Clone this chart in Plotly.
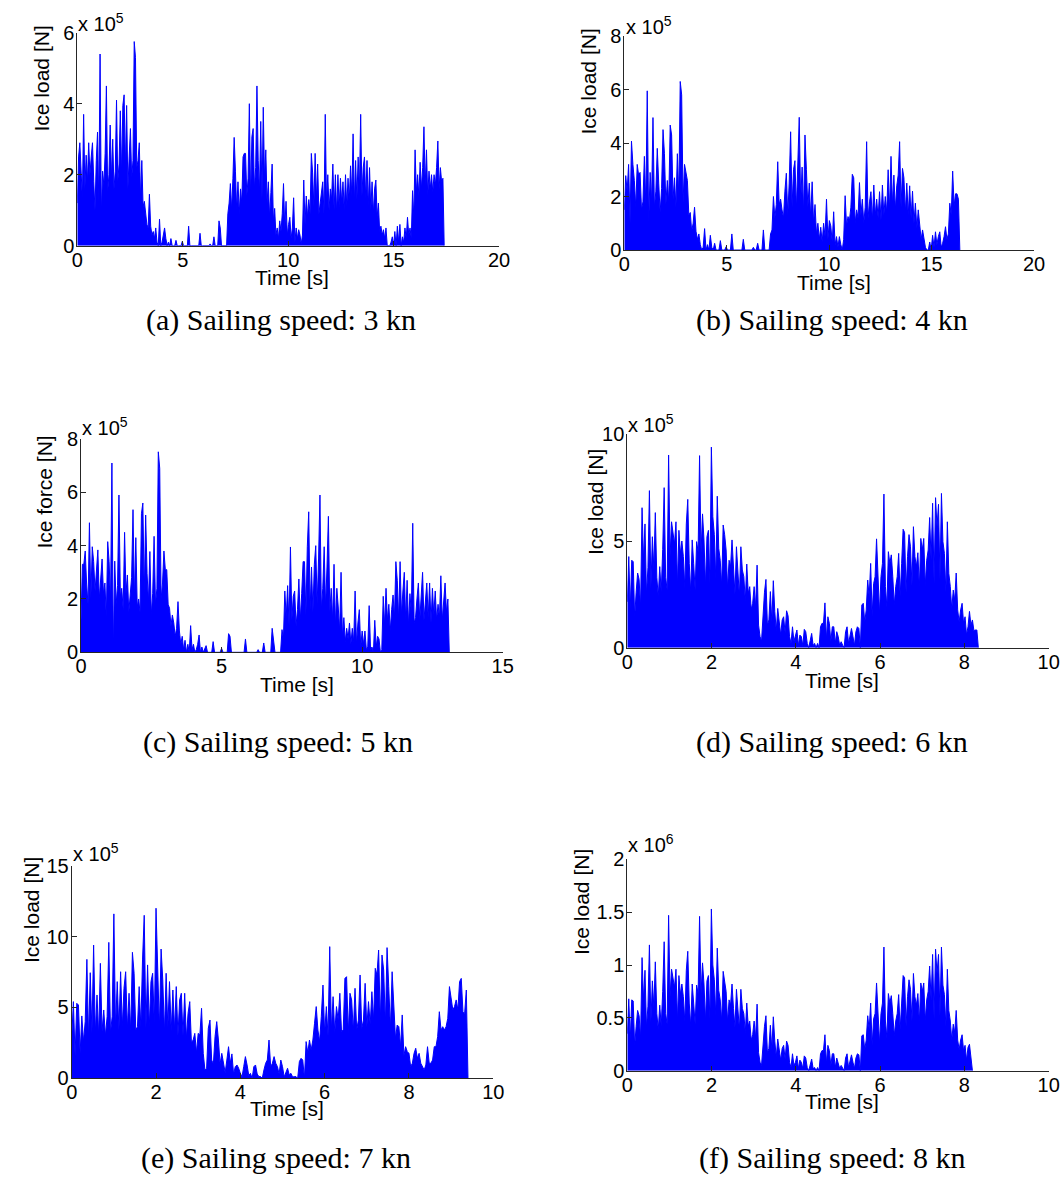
import numpy as np
import plotly.graph_objects as go

W, H = 1064, 1186

# ---------------- data (ice load, in units of the axis multiplier) ----------------
dt_a = 0.06   # s, panel (a) 3 kn, values x 1e5 N
load_a = [1.2, 2.5, 2.9, 2.0, 1.3, 3.7, 1.6, 2.55, 1.8, 2.9,
          2.0, 2.5, 2.9, 1.8, 1.0, 2.4, 3.2, 1.2, 5.4, 0.9,
          2.1, 1.7, 2.6, 4.5, 1.5, 2.0, 3.4, 1.9, 3.0, 1.6,
          2.1, 4.1, 1.8, 2.3, 3.8, 2.0, 3.95, 4.25, 2.2, 3.95,
          1.6, 2.5, 3.3, 1.9, 2.4, 5.75, 5.3, 2.2, 2.4, 2.9,
          1.3, 2.4, 1.1, 1.25, 0.8, 0.6, 0.5, 1.45, 0.55, 0.3,
          0.4, 0.2, 0.5, 0.1, 0, 0.75, 0, 0.1, 0.3, 0.5,
          0.2, 0, 0.1, 0, 0.2, 0, 0, 0, 0.15, 0,
          0, 0, 0, 0.12, 0, 0, 0, 0, 0.55, 0,
          0, 0, 0, 0, 0, 0, 0, 0.35, 0, 0,
          0, 0, 0, 0, 0, 0.05, 0, 0, 0.25, 0,
          0, 0, 0.7, 0.5, 0, 0, 0, 0, 0, 0.9,
          1.2, 1.75, 1.0, 1.9, 3.05, 2.1, 1.0, 1.8, 0.9, 1.6,
          1.2, 2.5, 2.6, 2.6, 1.4, 1.9, 4.0, 1.3, 3.07, 3.3,
          1.6, 2.2, 4.5, 2.4, 1.5, 3.5, 1.3, 3.9, 1.9, 2.7,
          1.2, 1.8, 0.8, 1.5, 2.3, 0.7, 1.05, 0.3, 0.5, 0.2,
          0.7, 0.4, 0.9, 1.75, 0.5, 1.25, 0.3, 0.6, 0.8, 0.2,
          0.5, 1.35, 0.1, 0.5, 0.2, 0.45, 0.3, 0.05, 0.3, 1.85,
          0.6, 1.4, 0.8, 1.3, 0.9, 2.6, 2.05, 1.1, 2.6, 1.3,
          2.3, 0.9, 1.2, 1.5, 1.8, 0.9, 3.7, 1.2, 2.0, 1.0,
          1.6, 1.3, 2.3, 1.0, 2.0, 0.9, 2.0, 1.1, 1.9, 1.2,
          1.8, 1.0, 2.0, 1.1, 1.9, 1.3, 2.25, 1.4, 3.15, 1.2,
          2.4, 1.3, 2.5, 1.6, 3.7, 1.4, 2.2, 2.5, 1.3, 2.4,
          1.1, 2.2, 1.0, 1.8, 0.9, 1.6, 1.85, 0.8, 1.2, 0.4,
          0.55, 0.3, 0.45, 0.2, 0.5, 0, 0, 0, 0.1, 0.25,
          0, 0.4, 0, 0.55, 0.1, 0.6, 0, 0.25, 0.1, 0.5,
          0.2, 0.8, 0.3, 0.5, 0.2, 1.55, 0.8, 2.7, 1.5, 2.0,
          1.4, 2.35, 1.6, 2.2, 3.35, 1.7, 2.7, 1.4, 2.1, 1.6,
          2.0, 1.5, 2.0, 1.7, 2.2, 2.95, 1.6, 2.2, 1.8, 1.9,
          0]

dt_b = 0.07   # s, panel (b) 4 kn, values x 1e5 N
load_b = [1.5, 2.78, 2.2, 3.2, 1.0, 4.07, 3.2, 2.6, 1.6, 3.2,
          2.8, 2.9, 1.5, 1.8, 3.5, 1.7, 5.95, 1.0, 2.9, 1.8,
          4.95, 1.6, 2.2, 3.8, 2.5, 1.4, 2.3, 4.5, 3.6, 1.7,
          2.6, 1.8, 4.67, 4.3, 1.9, 2.7, 1.6, 3.6, 2.0, 6.3,
          5.8, 1.8, 3.2, 2.8, 2.6, 1.3, 1.4, 0.7, 1.0, 1.6,
          0.7, 0.4, 0.6, 0.2, 0, 0.1, 0.8, 0, 0.2, 0,
          0.55, 0.1, 0, 0.25, 0, 0, 0, 0.35, 0, 0,
          0, 0.12, 0, 0, 0, 0.6, 0, 0, 0, 0,
          0, 0, 0, 0.4, 0, 0, 0, 0, 0, 0,
          0.1, 0, 0, 0.25, 0, 0, 0, 0.75, 0, 0,
          0, 0, 0.6, 0.75, 2.0, 1.2, 1.7, 3.3, 1.7, 1.9,
          1.5, 1.2, 2.2, 2.87, 1.3, 2.5, 4.42, 1.6, 3.0, 3.34,
          1.5, 2.9, 4.96, 1.8, 3.1, 1.4, 4.3, 3.0, 1.6, 2.5,
          1.2, 2.55, 1.0, 1.7, 0.6, 1.0, 0.4, 0.85, 0.3, 1.0,
          0.5, 1.9, 0.4, 1.1, 0.9, 0.3, 1.43, 0.2, 0.5, 0.1,
          0.5, 0.2, 0, 0.4, 2.03, 0.9, 1.25, 1.1, 1.6, 2.83,
          2.7, 1.0, 1.5, 1.2, 2.52, 1.3, 1.9, 1.0, 1.6, 4.05,
          1.2, 1.8, 2.18, 1.1, 2.43, 1.3, 1.9, 1.2, 2.18, 1.1,
          2.43, 1.3, 2.0, 1.4, 3.0, 1.5, 3.5, 1.7, 2.8, 1.5,
          2.4, 2.8, 4.05, 1.6, 3.05, 2.7, 1.4, 2.5, 1.3, 2.4,
          1.2, 2.2, 1.0, 1.75, 0.8, 1.5, 0.9, 0.4, 0.75, 0.37,
          0.1, 0, 0, 0.3, 0, 0.55, 0.1, 0.68, 0.2, 0.5,
          0.68, 0.1, 0.25, 0.5, 0.87, 0.4, 0.6, 1.75, 1.3, 2.95,
          1.65, 2.1, 2.1, 1.9, 0]

dt_c = 0.05   # s, panel (c) 5 kn, values x 1e5 N
force_c = [1.2, 3.3, 3.3, 3.8, 2.56, 1.8, 4.86, 2.0, 3.96, 3.4,
           2.3, 3.3, 3.84, 2.0, 3.0, 3.5, 2.2, 2.6, 1.3, 4.15,
           3.4, 1.9, 7.1, 0.0, 3.42, 1.8, 2.5, 5.9, 2.1, 2.4,
           1.6, 4.5, 2.2, 2.9, 1.5, 2.3, 2.8, 5.35, 2.0, 4.3,
           1.7, 2.0, 1.5, 5.2, 5.6, 2.2, 5.15, 2.95, 1.9, 3.78,
           1.4, 2.2, 4.35, 1.8, 2.4, 7.52, 6.9, 2.0, 2.6, 3.8,
           3.1, 3.1, 1.8, 1.65, 1.0, 1.4, 1.1, 0.6, 0.9, 1.9,
           0.8, 0.3, 0.6, 0.1, 0.45, 0, 0.3, 0, 1.0, 0.1,
           0.3, 0, 0.1, 0.3, 0.65, 0, 0.2, 0, 0.1, 0.25,
           0, 0, 0, 0, 0.4, 0, 0, 0, 0, 0,
           0.15, 0, 0, 0, 0, 0.7, 0.6, 0, 0, 0,
           0, 0, 0, 0, 0, 0, 0, 0.5, 0, 0,
           0, 0, 0, 0, 0, 0, 0.1, 0, 0, 0,
           0.35, 0, 0, 0, 0, 0, 0.9, 0.5, 0, 0,
           0, 0, 0, 0.85, 0.5, 2.3, 1.3, 2.5, 1.0, 3.95,
           1.2, 2.1, 2.3, 1.0, 1.6, 2.75, 1.2, 2.2, 3.4, 3.4,
           1.4, 3.96, 5.27, 1.6, 3.2, 1.5, 3.3, 4.0, 1.8, 3.5,
           5.9, 1.6, 2.4, 3.96, 1.7, 3.2, 5.1, 1.5, 2.4, 1.2,
           3.3, 1.0, 2.4, 1.7, 0.8, 3.0, 0.6, 1.3, 0.4, 0.9,
           0.5, 1.1, 0.3, 0.9, 0.4, 2.3, 0.3, 1.1, 1.6, 0.2,
           0.8, 0.3, 0.8, 0.1, 0.2, 1.75, 0.1, 0.2, 0, 1.2,
           0.2, 0.6, 0.5, 0, 0.1, 2.1, 1.0, 2.4, 1.2, 1.8,
           0.8, 1.6, 2.15, 1.3, 3.4, 2.7, 1.2, 3.4, 1.4, 2.3,
           3.0, 1.2, 2.7, 1.0, 2.2, 1.5, 4.84, 1.1, 1.3, 2.0,
           2.6, 1.2, 2.2, 3.0, 1.2, 2.1, 2.6, 1.3, 2.6, 1.1,
           2.4, 1.4, 2.3, 1.2, 1.8, 1.3, 2.87, 1.2, 1.9, 2.6,
           1.5, 2.0, 0]

dt_d = 0.035  # s, panel (d) 6 kn, values x 1e5 N
load_d = [2.15, 4.27, 1.8, 4.1, 4.03, 1.4, 2.6, 3.5, 3.2, 1.9,
          6.56, 4.1, 5.8, 2.5, 3.75, 7.36, 2.8, 5.2, 3.7, 6.33,
          3.3, 2.4, 3.8, 2.6, 4.6, 7.5, 3.3, 2.7, 9.03, 4.27,
          5.9, 5.3, 4.86, 5.9, 2.9, 5.5, 4.4, 5.0, 4.27, 2.8,
          5.8, 6.95, 3.95, 2.6, 5.05, 3.95, 2.7, 4.97, 4.5, 9.0,
          4.45, 6.27, 5.05, 2.9, 5.2, 5.5, 3.0, 9.4, 6.14, 5.3,
          3.2, 7.1, 4.66, 4.1, 2.9, 5.75, 5.3, 4.58, 2.8, 4.1,
          3.8, 5.05, 3.64, 2.5, 4.73, 3.25, 2.4, 4.73, 3.64, 3.33,
          2.2, 3.92, 2.55, 2.86, 1.8, 2.08, 2.86, 1.9, 3.87, 1.06,
          0.52, 0.3, 1.5, 2.6, 3.2, 1.06, 1.3, 2.63, 1.2, 3.14,
          1.69, 0.8, 1.84, 1.14, 0.6, 1.3, 1.45, 0.7, 1.73, 1.5,
          0.52, 0.2, 0.98, 0.3, 0.52, 0.83, 0.1, 0.59, 0.52, 0.1,
          0.86, 0.75, 0.2, 0.0, 0.33, 0.67, 0.1, 0.2, 0.0, 0.2,
          0.0, 0.98, 1.14, 1.14, 2.1, 0.4, 1.45, 1.14, 0.3, 0.98,
          0.98, 0.2, 0.75, 0.52, 0.1, 0.28, 0.12, 0.0, 0.75, 0.98,
          0.2, 0.59, 0.9, 0.52, 0.1, 0.75, 0.98, 0.9, 0.0, 2.0,
          2.08, 1.2, 1.77, 3.17, 2.39, 3.95, 1.5, 3.0, 3.33, 5.1,
          2.86, 1.6, 3.33, 3.95, 7.2, 2.86, 1.9, 4.5, 3.95, 4.35,
          3.33, 2.0, 2.86, 3.33, 4.42, 2.4, 3.95, 5.55, 5.4, 2.6,
          4.27, 5.3, 4.73, 2.9, 5.67, 4.27, 3.8, 4.45, 2.8, 5.12,
          4.58, 5.12, 2.9, 4.1, 4.58, 6.1, 4.1, 6.77, 3.0, 7.03,
          5.67, 6.72, 3.2, 7.23, 4.97, 4.42, 2.6, 5.9, 3.48, 2.86,
          1.8, 2.7, 2.23, 3.5, 1.77, 1.2, 1.77, 2.08, 1.14, 1.45,
          0.6, 0.98, 1.7, 1.06, 1.3, 0.8, 0.83, 0.83, 0]

dt_e = 0.04   # s, panel (e) 7 kn, values x 1e5 N
load_e = [2.82, 5.41, 1.58, 5.29, 5.17, 1.76, 4.4, 2.6, 4.0, 8.39,
          2.8, 7.45, 3.2, 9.4, 3.17, 5.88, 3.0, 8.11, 3.3, 4.82,
          3.0, 4.35, 9.59, 3.2, 4.35, 11.6, 3.5, 6.82, 3.4, 7.52,
          3.6, 6.35, 7.52, 3.5, 6.0, 3.3, 8.89, 7.41, 3.4, 3.64,
          6.47, 3.6, 8.35, 11.5, 3.5, 8.0, 3.6, 6.82, 7.41, 3.8,
          12.0, 7.41, 3.5, 9.12, 6.94, 3.2, 7.41, 3.6, 6.82, 3.3,
          6.23, 3.4, 6.47, 3.0, 5.53, 6.0, 3.0, 6.0, 2.8, 4.58,
          5.41, 2.5, 2.7, 3.17, 1.8, 3.17, 3.06, 4.94, 1.76, 0.59,
          0.7, 3.53, 4.11, 1.29, 1.0, 2.94, 4.0, 2.7, 1.0, 1.76,
          1.18, 0.4, 1.29, 2.23, 1.06, 1.72, 0.3, 0.82, 0.94, 0.71,
          0.35, 0.1, 0.82, 1.53, 0.94, 0.2, 0.35, 0.0, 0.82, 0.94,
          0.3, 0.12, 0.12, 0.0, 0.59, 1.06, 1.29, 2.7, 0.8, 1.06,
          1.53, 1.06, 0.82, 0.3, 1.29, 0.82, 0.1, 0.35, 0.71, 0.24,
          0.35, 0.1, 0.12, 0.12, 0.0, 1.18, 1.41, 1.29, 0.0, 2.59,
          1.8, 2.7, 2.0, 2.7, 3.88, 5.06, 3.41, 2.6, 4.35, 6.58,
          3.17, 5.06, 3.0, 9.29, 3.41, 5.76, 3.2, 5.06, 4.11, 6.0,
          3.3, 3.41, 7.05, 7.17, 3.2, 6.0, 5.53, 3.3, 6.35, 3.41,
          4.11, 7.29, 3.5, 4.11, 6.7, 3.6, 5.41, 3.8, 6.11, 4.11,
          7.76, 7.29, 9.05, 4.0, 8.7, 7.64, 3.8, 9.22, 6.47, 3.5,
          7.52, 4.58, 2.8, 3.76, 3.64, 2.23, 4.47, 1.6, 2.23, 1.88,
          1.76, 0.82, 1.06, 1.76, 2.12, 1.41, 1.76, 1.06, 0.82, 0.59,
          0.94, 2.23, 1.06, 1.06, 1.29, 2.23, 2.23, 2.94, 4.7, 3.41,
          3.64, 3.41, 3.64, 4.23, 6.47, 5.53, 4.82, 5.06, 5.53, 4.82,
          6.82, 7.05, 4.7, 4.58, 6.23, 0]

dt_f = 0.035  # s, panel (f) 8 kn, values x 1e6 N
load_f = [0.35, 0.68, 0.29, 0.67, 0.66, 0.23, 0.42, 0.57, 0.52, 0.31,
          1.07, 0.67, 0.95, 0.41, 0.61, 1.19, 0.46, 0.85, 0.60, 1.03,
          0.54, 0.39, 0.62, 0.42, 0.75, 1.22, 0.54, 0.44, 1.47, 0.70,
          0.96, 0.86, 0.79, 0.96, 0.47, 0.90, 0.72, 0.82, 0.70, 0.46,
          0.95, 1.13, 0.64, 0.42, 0.82, 0.64, 0.44, 0.81, 0.73, 1.46,
          0.73, 1.02, 0.82, 0.47, 0.85, 0.90, 0.49, 1.53, 1.0, 0.86,
          0.52, 1.16, 0.76, 0.67, 0.47, 0.94, 0.86, 0.75, 0.46, 0.67,
          0.62, 0.82, 0.59, 0.41, 0.77, 0.53, 0.39, 0.77, 0.59, 0.54,
          0.36, 0.64, 0.42, 0.47, 0.29, 0.34, 0.47, 0.31, 0.63, 0.17,
          0.08, 0.05, 0.24, 0.42, 0.52, 0.17, 0.21, 0.43, 0.20, 0.51,
          0.28, 0.13, 0.30, 0.19, 0.10, 0.21, 0.24, 0.11, 0.28, 0.24,
          0.08, 0.03, 0.16, 0.05, 0.08, 0.14, 0.02, 0.10, 0.08, 0.02,
          0.14, 0.12, 0.03, 0.0, 0.05, 0.11, 0.02, 0.03, 0.0, 0.03,
          0.0, 0.16, 0.19, 0.19, 0.34, 0.07, 0.24, 0.19, 0.05, 0.16,
          0.16, 0.03, 0.12, 0.08, 0.02, 0.05, 0.02, 0.0, 0.12, 0.16,
          0.03, 0.10, 0.15, 0.08, 0.02, 0.12, 0.16, 0.15, 0.0, 0.33,
          0.34, 0.20, 0.29, 0.52, 0.39, 0.64, 0.24, 0.49, 0.54, 0.83,
          0.47, 0.26, 0.54, 0.64, 1.17, 0.47, 0.31, 0.73, 0.64, 0.71,
          0.54, 0.33, 0.47, 0.54, 0.72, 0.39, 0.64, 0.90, 0.88, 0.42,
          0.70, 0.86, 0.77, 0.47, 0.92, 0.70, 0.62, 0.73, 0.46, 0.83,
          0.75, 0.83, 0.47, 0.67, 0.75, 0.99, 0.67, 1.10, 0.49, 1.15,
          0.92, 1.10, 0.52, 1.17, 0.81, 0.72, 0.42, 0.96, 0.57, 0.47,
          0.29, 0.44, 0.36, 0.57, 0.29, 0.20, 0.29, 0.34, 0.19, 0.24,
          0.10, 0.22, 0.25, 0.10, 0]

time_ticks_20 = [0, 5, 10, 15, 20]
time_ticks_15 = [0, 5, 10, 15]
time_ticks_10 = [0, 2, 4, 6, 8, 10]

captions = ["(a) Sailing speed: 3 kn", "(b) Sailing speed: 4 kn",
            "(c) Sailing speed: 5 kn", "(d) Sailing speed: 6 kn",
            "(e) Sailing speed: 7 kn", "(f) Sailing speed: 8 kn"]
y_titles = ["Ice load [N]", "Ice load [N]", "Ice force [N]",
            "Ice load [N]", "Ice load [N]", "Ice load [N]"]
exponents = ["5", "5", "5", "5", "5", "6"]

# ---------------- layout geometry (pixels) ----------------
panels = [
    dict(dt=dt_a, vals=load_a, xr=[0, 20], xt=time_ticks_20, yr=[0, 6], yt=[0, 2, 4, 6],
         box=(77.3, 499.0, 245.7, 32.7), ylab=(41, 78.5), xlab=(292, 277), expo=(76, 23), cap=(280.5, 320)),
    dict(dt=dt_b, vals=load_b, xr=[0, 20], xt=time_ticks_20, yr=[0, 8], yt=[0, 2, 4, 6, 8],
         box=(624.3, 1034.0, 250.0, 36.0), ylab=(588, 81.5), xlab=(834, 282), expo=(624, 26), cap=(832, 320)),
    dict(dt=dt_c, vals=force_c, xr=[0, 15], xt=time_ticks_15, yr=[0, 8], yt=[0, 2, 4, 6, 8],
         box=(81.0, 502.7, 652.3, 439.0), ylab=(43.5, 492), xlab=(297, 684), expo=(80, 426), cap=(278, 742)),
    dict(dt=dt_d, vals=load_d, xr=[0, 10], xt=time_ticks_10, yr=[0, 10], yt=[0, 5, 10],
         box=(627.3, 1048.7, 647.7, 434.3), ylab=(595, 502), xlab=(842, 680), expo=(626, 423), cap=(832, 742)),
    dict(dt=dt_e, vals=load_e, xr=[0, 10], xt=time_ticks_10, yr=[0, 15], yt=[0, 5, 10, 15],
         box=(71.7, 493.3, 1078.3, 865.7), ylab=(31, 910), xlab=(287, 1108), expo=(71, 852), cap=(276, 1158)),
    dict(dt=dt_f, vals=load_f, xr=[0, 10], xt=time_ticks_10, yr=[0, 2], yt=[0, 0.5, 1, 1.5, 2],
         box=(627.3, 1048.7, 1070.7, 859.3), ylab=(581, 902), xlab=(842, 1101), expo=(626, 843), cap=(832, 1158)),
]

SANS = "Liberation Sans, Arial, sans-serif"
SERIF = "Liberation Serif, Times New Roman, serif"
AX = "#262626"


def px(x):
    return x / W


def py(y):
    return 1 - y / H


fig = go.Figure()
layout = dict(template="none", width=W, height=H, margin=dict(l=0, r=0, t=0, b=0, pad=0),
              paper_bgcolor="white", plot_bgcolor="white", showlegend=False)
annotations = []

for k, p in enumerate(panels):
    n = k + 1
    sx = "" if n == 1 else str(n)
    vals = np.array(p["vals"], dtype=float)
    t = np.arange(len(vals)) * p["dt"]
    fig.add_trace(go.Scatter(x=t, y=vals, mode="lines",
                             line=dict(color="#0000ff", width=1),
                             fill="tozeroy", fillcolor="#0000ff",
                             xaxis="x" + sx, yaxis="y" + sx, hoverinfo="skip"))
    x0, x1, yb, yt = p["box"]
    layout["xaxis" + sx] = dict(domain=[px(x0), px(x1)], range=p["xr"], anchor="y" + sx,
                                automargin=False, tickvals=p["xt"], ticks="inside", ticklen=5,
                                tickcolor=AX, showline=True, linecolor=AX, linewidth=1,
                                showgrid=False, zeroline=False, ticklabelstandoff=-4,
                                tickfont=dict(family=SANS, size=20, color="black"))
    layout["yaxis" + sx] = dict(domain=[py(yb), py(yt)], range=p["yr"], anchor="x" + sx,
                                automargin=False, tickvals=p["yt"], ticks="inside", ticklen=5,
                                tickcolor=AX, showline=True, linecolor=AX, linewidth=1,
                                showgrid=False, zeroline=False, ticklabelstandoff=-2,
                                tickfont=dict(family=SANS, size=20, color="black"))
    annotations.append(dict(text=y_titles[k], x=px(p["ylab"][0]), y=py(p["ylab"][1]),
                            xref="paper", yref="paper", textangle=-90, showarrow=False,
                            xanchor="center", yanchor="middle",
                            font=dict(family=SANS, size=21, color="black")))
    annotations.append(dict(text="Time [s]", x=px(p["xlab"][0]), y=py(p["xlab"][1]),
                            xref="paper", yref="paper", showarrow=False,
                            xanchor="center", yanchor="middle",
                            font=dict(family=SANS, size=21, color="black")))
    annotations.append(dict(text="x 10<sup>" + exponents[k] + "</sup>", x=px(p["expo"][0]),
                            y=py(p["expo"][1]), xref="paper", yref="paper", showarrow=False,
                            xanchor="left", yanchor="middle",
                            font=dict(family=SANS, size=20, color="black")))
    annotations.append(dict(text=captions[k], x=px(p["cap"][0]), y=py(p["cap"][1]),
                            xref="paper", yref="paper", showarrow=False,
                            xanchor="center", yanchor="middle",
                            font=dict(family=SERIF, size=30, color="black")))

layout["annotations"] = annotations
fig.update_layout(**layout)
fig.write_html("out.html")
